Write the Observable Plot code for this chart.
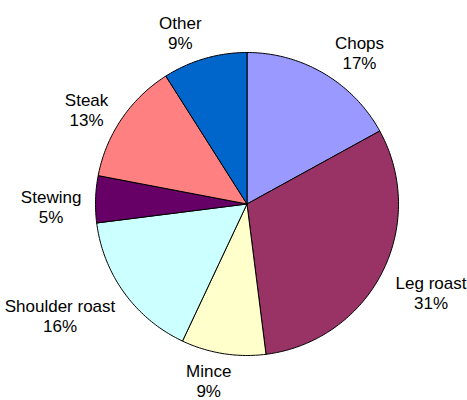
<!DOCTYPE html>
<html>
<head>
<meta charset="utf-8">
<script src="https://cdn.jsdelivr.net/npm/d3@7"></script>
<script src="https://cdn.jsdelivr.net/npm/@observablehq/plot@0.6"></script>
<style>
  html, body { margin: 0; padding: 0; background: #ffffff; }
  #chart svg { display: block; }
</style>
</head>
<body>
<div id="chart"></div>
<script>
// Data (clockwise from 12 o'clock)
const names = ["Chops", "Leg roast", "Mince", "Shoulder roast", "Stewing", "Steak", "Other"];
const values = [17, 31, 9, 16, 5, 13, 9];
const colors = ["#9999FF", "#993366", "#FFFFCC", "#CCFFFF", "#660066", "#FF8080", "#0066CC"];

const W = 467, H = 400;
const radiusPx = 151.5;
const fontSize = 17;
const lineH = 20;

const total = d3.sum(values);
let acc = 0;
const slicePts = [];
const labels = [];
names.forEach((name, i) => {
  const a0 = acc / total * 2 * Math.PI;
  acc += values[i];
  const a1 = acc / total * 2 * Math.PI;
  const n = Math.max(2, Math.ceil((a1 - a0) / (Math.PI / 180)));
  slicePts.push({name, x: 0, y: 0});
  for (let k = 0; k <= n; k++) {
    const a = a0 + (a1 - a0) * k / n;
    slicePts.push({name, x: Math.sin(a), y: Math.cos(a)});
  }
  slicePts.push({name, x: 0, y: 0});
  // label placement outside the pie (pixel offsets, converted to data units)
  const mid = (a0 + a1) / 2;
  const s = Math.sin(mid), c = Math.cos(mid);
  const pct = Math.round(values[i] / total * 100) + "%";
  const wText = Math.max(name.length, pct.length) * 8;
  const dxPx = s * (168 + wText / 2) + 60 * Math.pow(c, 4) * s;
  const dyUpPx = c * 179 + 2 - 10 * Math.abs(s);
  labels.push({
    label: name + "\n" + pct,
    x: dxPx / radiusPx,
    y: dyUpPx / radiusPx
  });
});

const chart = Plot.plot({
  width: W,
  height: H,
  marginLeft: 95,
  marginRight: W - 95 - 2 * radiusPx,
  marginTop: 52,
  marginBottom: H - 52 - 2 * radiusPx,
  x: {domain: [-1, 1], axis: null},
  y: {domain: [-1, 1], axis: null},
  color: {domain: names, range: colors},
  style: {fontFamily: "'Liberation Sans', Arial, sans-serif", background: "#ffffff"},
  marks: [
    Plot.line(slicePts, {x: "x", y: "y", z: "name", fill: "name", stroke: "#000000", strokeWidth: 1, curve: "linear", strokeLinejoin: "round"}),
    Plot.text(labels, {x: "x", y: "y", text: "label", fontSize: fontSize, lineHeight: lineH / fontSize, fill: "#000000", textAnchor: "middle"})
  ]
});
document.getElementById("chart").appendChild(chart);
</script>
</body>
</html>
